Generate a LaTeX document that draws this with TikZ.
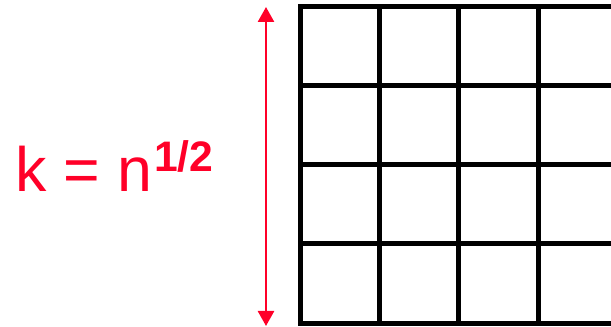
\documentclass[tikz,border=0pt]{standalone}
\usepackage{fontspec}
\setmainfont{Liberation Sans}
\usetikzlibrary{arrows.meta}
\definecolor{kred}{RGB}{255,0,40}
\begin{document}
\begin{tikzpicture}[x=0.75pt,y=-0.75pt,
  gridline/.style={line width=3.75pt,black,line cap=rect},
  dimarrow/.style={kred,line width=1.9pt,{Triangle[length=11.25pt,width=12pt]}-{Triangle[length=11.25pt,width=12pt]}},
  formula/.style={kred,anchor=base west,inner sep=0pt}]
\useasboundingbox (0,0) rectangle (611,327);
% grid
\foreach \y in {7,86,165,244,323.5} \draw[gridline] (300,\y) -- (615,\y);
\foreach \x in {300,379,458,538} \draw[gridline] (\x,7) -- (\x,323.5);
% arrow
\coordinate (top) at (266,7);
\coordinate (bot) at (266,326);
\draw[dimarrow] (bot) -- (top);
% label
\node[formula] (lab) at (15,192) {\fontsize{47}{53}\selectfont k = n\kern1pt\raisebox{15pt}{\fontsize{32}{36}\selectfont\bfseries 1/2}};
\end{tikzpicture}
\end{document}
